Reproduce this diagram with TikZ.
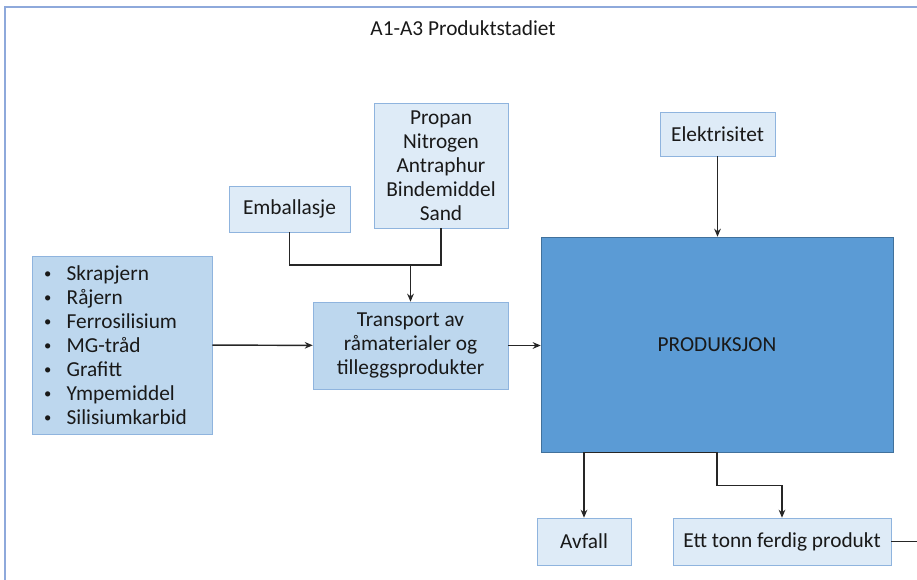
\documentclass[tikz,border=0pt]{standalone}
\usepackage{fontspec}
\setmainfont{Carlito}
\usepackage{tikz}
\usetikzlibrary{arrows.meta,positioning,calc}
\definecolor{lysblaa}{HTML}{DEEBF7}
\definecolor{midblaa}{HTML}{BDD7EE}
\definecolor{kant}{HTML}{8FB4DE}
\definecolor{prodfyll}{HTML}{5B9BD5}
\definecolor{prodkant}{HTML}{41719C}
\definecolor{ramme}{HTML}{8EA9DB}
\newcommand{\kule}{\makebox[17pt][l]{\raisebox{1pt}{\fontsize{11}{11}\selectfont\textbullet}}}
\begin{document}
\begin{tikzpicture}[x=0.75pt,y=-0.75pt,>={Stealth[length=6pt,width=5pt]},
	every node/.style={font=\fontsize{16}{18}\selectfont,text=black!90},
	lysboks/.style={draw=kant,fill=lysblaa,inner sep=0pt,align=center},
	midboks/.style={draw=kant,fill=midblaa,inner sep=0pt,align=center},
	linje/.style={draw=black!85,line width=1.1pt}]
	
	\useasboundingbox (0,0) rectangle (917,580);
	\draw[ramme,line width=0.8pt] (5,580) -- (5,7) -- (917,7);
	\node (Tittel) at (463,28) {A1-A3 Produktstadiet};
	
	\node[lysboks,minimum width=100.5pt,minimum height=93.75pt] (Gass) at (441,165.5) {Propan\\Nitrogen\\Antraphur\\Bindemiddel\\Sand};
	\node[lysboks,minimum width=90.75pt,minimum height=34.5pt] (Emb) at (289.5,209) {Emballasje};
	\node[lysboks,minimum width=86.25pt,minimum height=33pt] (Elek) at (717.5,134) {Elektrisitet};
	\node[midboks,minimum height=133.5pt,text width=117pt,inner xsep=9pt,align=left] (Raa) at (122,345)
		{\kule Skrapjern\\
		 \kule Råjern\\
		 \kule Ferrosilisium\\
		 \kule MG-tråd\\
		 \kule Grafitt\\
		 \kule Ympemiddel\\
		 \kule Silisiumkarbid};
	\node[midboks,minimum width=146.25pt,minimum height=65.25pt] (Trans) at (410.5,345.5) {Transport av\\råmaterialer og\\tilleggsprodukter};
	\node[draw=prodkant,fill=prodfyll,minimum width=264pt,minimum height=161.25pt,inner sep=0pt] (Prod) at (717,344.5) {PRODUKSJON};
	\node[lysboks,minimum width=70.5pt,minimum height=35.25pt] (Avf) at (584,541.5) {Avfall};
	\node[lysboks,minimum width=163.5pt,minimum height=35.25pt] (Ferdig) at (782,541.5) {Ett tonn ferdig produkt};
	
	\coordinate (Samle) at (Trans.north |- 0,265);
	\coordinate (Ut) at (917,541.5);
	
	\draw[linje] (Emb.south) |- (Samle) -| (Gass.south);
	\draw[linje,->] (Samle) -- (Trans.north);
	\draw[linje,->] (Raa) -- (Trans);
	\draw[linje,->] (Trans) -- (Prod.west |- Trans);
	\draw[linje,->] (Elek) -- (Prod.north -| Elek);
	\draw[linje,->] (Prod.south) -| (Avf.north);
	\draw[linje,->] (Prod.south) -- ++(0,33) -| (Ferdig.north);
	\draw[linje] (Ferdig) -- (Ut);
\end{tikzpicture}
\end{document}
